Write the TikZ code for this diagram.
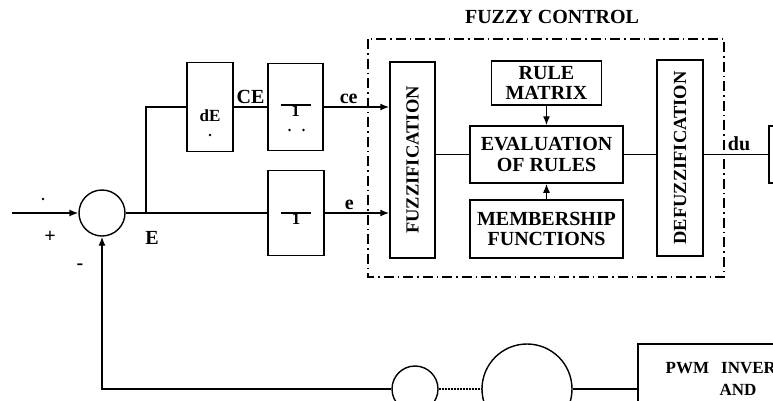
\documentclass[tikz,border=0pt]{standalone}
\usepackage{fontspec}
\setmainfont{Liberation Serif}
\usetikzlibrary{arrows.meta, calc, positioning}

\begin{document}
\begin{tikzpicture}[x=1pt, y=-1pt, line width=1.4pt, >={Latex[length=9pt,width=7pt]},
  every node/.style={align=center, inner sep=0pt},
  blk/.style={draw, line width=1.5pt},
  big/.style={font=\fontsize{20}{20.5}\selectfont\bfseries},
  side/.style={font=\fontsize{18.5}{19}\selectfont\bfseries, rotate=90},
  sig/.style={font=\fontsize{20}{20}\selectfont\bfseries},
  small/.style={font=\fontsize{17}{17}\selectfont\bfseries},
  speck/.style={fill, circle, minimum size=2.6pt}]
\useasboundingbox (0,0) rectangle (773,400);
\clip (0,0) rectangle (773,400);

% summing point and error branches
\node[draw, circle, minimum size=46] (sum) at (102,213) {};
\coordinate (in) at (12,213);
\coordinate (E) at (146,213);
\node[blk, minimum width=46, minimum height=89] (diff) at (210,107) {};
\node[blk, minimum width=55, minimum height=87] (gce) at (295.5,107) {};
\node[blk, minimum width=56, minimum height=85] (ge) at (296,213) {};
\node[small] (dE) at ($(diff.center)+(0,9)$) {dE};
\node[speck] (dEdot) at ($(diff.center)+(0,28)$) {};
\draw[line width=1.3pt] ($(gce.center)+(-15,-2)$) -- ++(30,0);
\node[small, anchor=north] (one1) at ($(gce.center)+(0,-2)$) {1};
\node[speck] (dotl) at ($(gce.center)+(-6,23)$) {};
\node[speck] (dotr) at ($(gce.center)+(8,23)$) {};
\draw[line width=1.3pt] ($(ge.center)+(-15,0)$) -- ++(30,0);
\node[small, anchor=north] (one2) at (ge.center) {1};

% fuzzy controller
\node[blk, minimum width=45, minimum height=196] (fuzz) at (412.5,160) {};
\node[side] (fuzztxt) at (fuzz) {FUZZIFICATION};
\node[blk, big, minimum width=110, minimum height=44] (rules) at (546.5,83) {RULE\\MATRIX};
\node[blk, big, minimum width=153, minimum height=57] (eval) at (546.5,154.5) {EVALUATION\\OF RULES};
\node[blk, big, minimum width=153, minimum height=58] (memb) at (546.5,229) {MEMBERSHIP\\FUNCTIONS};
\node[blk, minimum width=46, minimum height=196] (defuzz) at (680,158) {};
\node[side] (defuzztxt) at (defuzz) {DEFUZZIFICATION};
\draw[line width=1.3pt, dash pattern=on 10pt off 4pt on 1.5pt off 4pt] (368,39) rectangle (724,277);
\node[big] (title) at (552,17) {FUZZY CONTROL};

% plant side
\node[blk, anchor=north west, minimum width=60, minimum height=57] (plant) at (768,125) {};
\node[draw, circle, minimum size=46] (sens) at (415,389) {};
\node[draw, circle, minimum size=90] (mot) at (527,389) {};
\node[blk, anchor=north west, minimum width=200, minimum height=120] (pwm) at (637,343) {};
\node[font=\fontsize{17}{22}\selectfont\bfseries] (pwmtxt) at (738,379) {PWM\hspace{12pt}INVERTER\\AND};

% signs and labels
\node[sig] (plus) at (50,237) {+};
\node[sig] (minus) at (80,267) {-};
\node[speck] (dot) at (43,199) {};
\node[sig] (Elbl) at (152,238) {E};

% connections
\draw[->] (in) -- (sum);
\draw (sum) -- (E) -- (ge);
\draw (E) |- (diff);
\draw (diff) -- (gce) node[midway, above=3pt, sig] {CE};
\draw[->] (gce) -- (gce -| fuzz.west) node[pos=0.38, above=3pt, sig] {ce};
\draw[->] (ge) -- (ge -| fuzz.west) node[pos=0.38, above=3pt, sig] {e};
\draw (fuzz.east |- eval) -- (eval);
\draw (eval) -- (eval -| defuzz.west);
\draw[->] (rules) -- (eval);
\draw[->] (memb) -- (eval);
\draw (defuzz.east |- plant) -- (plant) node[pos=0.55, above=3pt, sig] {du};
\draw[->] (sens) -| (sum);
\draw[dash pattern=on 2pt off 1pt] (sens) -- (mot);
\draw (mot) -- (mot -| pwm.west);
\end{tikzpicture}
\end{document}
